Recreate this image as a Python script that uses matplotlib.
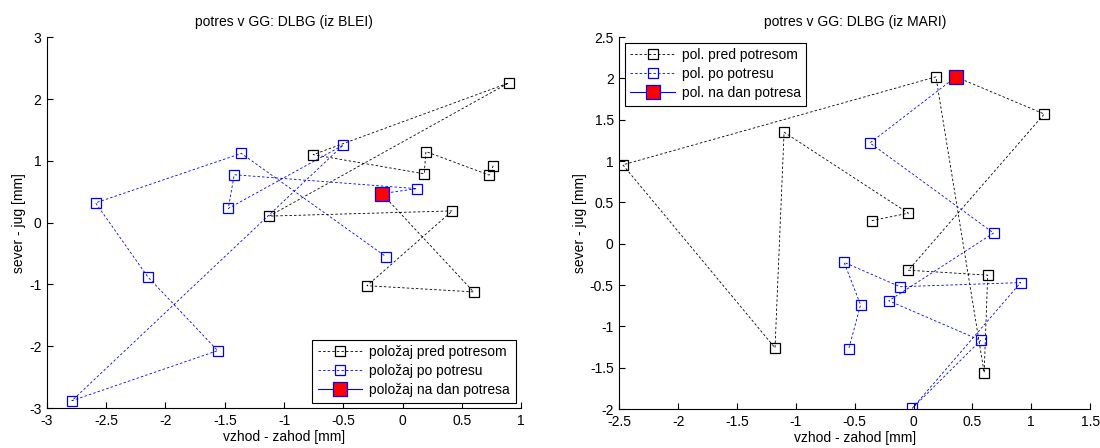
import matplotlib
matplotlib.use("Agg")
import matplotlib.pyplot as plt
from matplotlib.ticker import FuncFormatter

plt.rcParams['font.family'] = ['Liberation Sans', 'DejaVu Sans']
plt.rcParams['font.size'] = 10
plt.rcParams['axes.unicode_minus'] = False

# --- BLEI ---
blei_pred_x = [0.765, 0.73, 0.197, 0.183, -0.754, 0.895, -1.125, 0.42, -0.30, 0.60]
blei_pred_y = [0.92, 0.77, 1.15, 0.79, 1.10, 2.26, 0.106, 0.19, -1.02, -1.12]
blei_dan = (-0.174, 0.47)
blei_po_x = [0.12, -1.42, -1.47, -0.50, -2.79, -1.56, -2.15, -2.59, -1.36, -0.14]
blei_po_y = [0.55, 0.775, 0.23, 1.255, -2.88, -2.07, -0.875, 0.32, 1.12, -0.55]

# --- MARI ---
mari_pred_x = [-0.355, -0.044, -1.10, -1.177, -2.47, 0.19, 0.60, 0.63, -0.044, 1.11]
mari_pred_y = [0.28, 0.37, 1.35, -1.26, 0.955, 2.02, -1.56, -0.38, -0.32, 1.57]
mari_dan = (0.36, 2.02)
mari_po_x = [-0.37, 0.68, -0.21, 0.57, -0.01, 0.91, -0.115, -0.59, -0.45, -0.55]
mari_po_y = [1.22, 0.13, -0.69, -1.17, -1.99, -0.47, -0.52, -0.225, -0.74, -1.27]

dash = (0, (3, 2.5))
fmt = FuncFormatter(lambda v, p: '%g' % v)


def draw(ax, px, py, dan, qx, qy, names, title, xlim, ylim, xt, yt, loc):
    l1, = ax.plot(px + [dan[0]], py + [dan[1]], color='k', ls=dash, lw=0.6,
                  marker='s', mfc='none', mec='k', ms=7, mew=0.9, markevery=list(range(len(px))))
    l2, = ax.plot([dan[0]] + qx, [dan[1]] + qy, color='b', ls=dash, lw=0.6,
                  marker='s', mfc='none', mec='b', ms=7, mew=0.9, markevery=list(range(1, len(qx) + 1)))
    l3, = ax.plot([dan[0]], [dan[1]], color='b', ls='-', lw=0.8,
                  marker='s', mfc='red', mec='b', ms=9.5, mew=0.9)
    ax.set_xlim(xlim)
    ax.set_ylim(ylim)
    ax.set_xticks(xt)
    ax.set_yticks(yt)
    ax.xaxis.set_major_formatter(fmt)
    ax.yaxis.set_major_formatter(fmt)
    ax.spines['top'].set_visible(False)
    ax.spines['right'].set_visible(False)
    ax.tick_params(direction='in', length=4, width=0.8, pad=4)
    ax.set_title(title, fontsize=10, pad=8)
    ax.set_xlabel('vzhod - zahod [mm]', labelpad=2)
    ax.set_ylabel('sever - jug [mm]', labelpad=2)
    leg = ax.legend([l1, l2, l3], names, loc=loc, fancybox=False, framealpha=1,
                    edgecolor='k', numpoints=1, handlelength=3.2, handletextpad=0.5,
                    borderaxespad=0.4, labelspacing=0.35, borderpad=0.4)
    leg.get_frame().set_linewidth(0.8)


fig = plt.figure(figsize=(11, 4.48), dpi=100)
ax1 = fig.add_axes([0.0427, 0.089, 0.431, 0.828])
ax2 = fig.add_axes([0.563, 0.087, 0.428, 0.830])

draw(ax1, blei_pred_x, blei_pred_y, blei_dan, blei_po_x, blei_po_y,
     ['položaj pred potresom', 'položaj po potresu', 'položaj na dan potresa'],
     'potres v GG: DLBG (iz BLEI)', (-3, 1), (-3, 3),
     [-3, -2.5, -2, -1.5, -1, -0.5, 0, 0.5, 1], [-3, -2, -1, 0, 1, 2, 3], 'lower right')
draw(ax2, mari_pred_x, mari_pred_y, mari_dan, mari_po_x, mari_po_y,
     ['pol. pred potresom', 'pol. po potresu', 'pol. na dan potresa'],
     'potres v GG: DLBG (iz MARI)', (-2.5, 1.5), (-2, 2.5),
     [-2.5, -2, -1.5, -1, -0.5, 0, 0.5, 1, 1.5],
     [-2, -1.5, -1, -0.5, 0, 0.5, 1, 1.5, 2, 2.5], 'upper left')

fig.savefig('out.png', dpi=100)
